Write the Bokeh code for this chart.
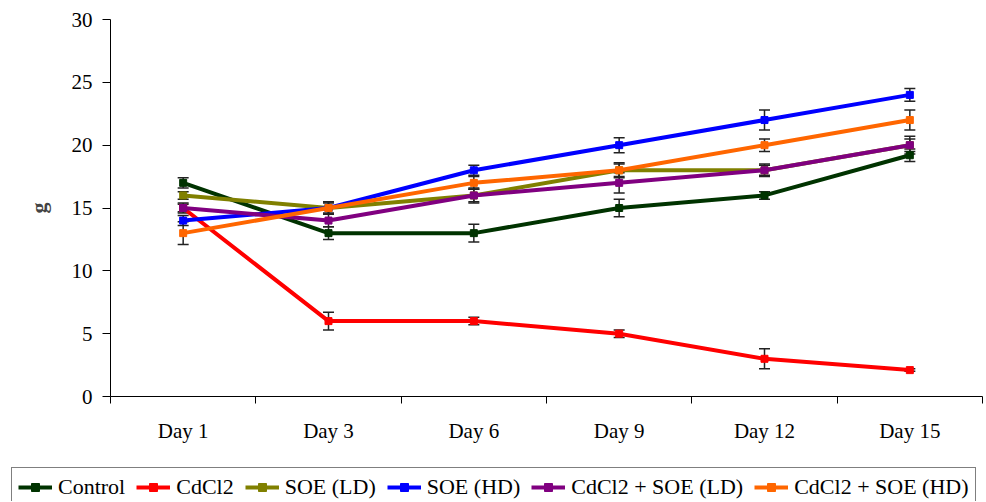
from bokeh.plotting import figure
from bokeh.layouts import column
from bokeh.models import (Range1d, FixedTicker, Legend, LegendItem, Whisker,
                          TeeHead, ColumnDataSource)
from bokeh.embed import file_html
from bokeh.resources import INLINE

days = ["Day 1", "Day 3", "Day 6", "Day 9", "Day 12", "Day 15"]

series_names = ["Control", "CdCl2", "SOE (LD)", "SOE (HD)",
                "CdCl2 + SOE (LD)", "CdCl2 + SOE (HD)"]

control = [17, 13, 13, 15, 16, 19.2]
cdcl2 = [15, 6, 6, 5, 3, 2.1]
soe_ld = [16, 15, 16, 18, 18, 20]
soe_hd = [14, 15, 18, 20, 22, 24]
cd_soe_ld = [15, 14, 16, 17, 18, 20]
cd_soe_hd = [13, 15, 17, 18, 20, 22]

control_err = [0.4, 0.5, 0.7, 0.7, 0.3, 0.5]
cdcl2_err = [0.3, 0.7, 0.3, 0.3, 0.8, 0.1]
soe_ld_err = [0.3, 0.5, 0.5, 0.5, 0.4, 0.5]
soe_hd_err = [0.4, 0.5, 0.4, 0.6, 0.8, 0.5]
cd_soe_ld_err = [0.4, 0.5, 0.6, 0.8, 0.5, 0.7]
cd_soe_hd_err = [0.9, 0.4, 0.5, 0.6, 0.5, 0.8]

colors = ["#003300", "#FF0000", "#808000", "#0000FF", "#800080", "#FF6600"]

all_values = [control, cdcl2, soe_ld, soe_hd, cd_soe_ld, cd_soe_hd]
all_errors = [control_err, cdcl2_err, soe_ld_err, soe_hd_err, cd_soe_ld_err, cd_soe_hd_err]

FONT = "Liberation Serif"

p = figure(width=984, height=463, output_backend="svg", toolbar_location=None,
           x_range=Range1d(-0.5, 5.5), y_range=Range1d(0, 30),
           min_border_left=110, min_border_top=19, min_border_right=2,
           min_border_bottom=67)
p.frame_align = False
p.xgrid.visible = False
p.ygrid.visible = False
p.outline_line_color = None
p.background_fill_color = "white"
p.border_fill_color = "white"

xs = list(range(len(days)))

# error bars
for vals, errs in zip(all_values, all_errors):
    src = ColumnDataSource(dict(x=xs,
                                upper=[v + e for v, e in zip(vals, errs)],
                                lower=[v - e for v, e in zip(vals, errs)]))
    w = Whisker(source=src, base="x", upper="upper", lower="lower",
                line_color="#222222", line_width=1.5,
                upper_head=TeeHead(size=11, line_color="#222222", line_width=1.5),
                lower_head=TeeHead(size=11, line_color="#222222", line_width=1.5))
    p.add_layout(w)

for name, vals, col in zip(series_names, all_values, colors):
    p.line(xs, vals, line_color=col, line_width=4)
    p.scatter(xs, vals, marker="square", size=7, fill_color=col, line_color=col)

# x axis
xa = p.xaxis[0]
xa.ticker = FixedTicker(ticks=xs, minor_ticks=[i - 0.5 for i in range(len(days) + 1)])
xa.major_label_overrides = {i: d for i, d in enumerate(days)}
xa.major_tick_out = 0
xa.major_tick_in = 0
xa.minor_tick_out = 7
xa.minor_tick_in = 0
xa.minor_tick_line_color = "black"
xa.axis_line_color = "black"
xa.major_label_standoff = 15
xa.major_label_text_font = FONT
xa.major_label_text_font_size = "21px"
xa.major_label_text_color = "black"

ya = p.yaxis[0]
ya.ticker = FixedTicker(ticks=[0, 5, 10, 15, 20, 25, 30])
ya.major_tick_out = 8
ya.major_tick_in = 0
ya.minor_tick_out = 0
ya.minor_tick_in = 0
ya.axis_line_color = "black"
ya.major_tick_line_color = "black"
ya.major_label_standoff = 10
ya.major_label_text_font = FONT
ya.major_label_text_font_size = "21px"
ya.major_label_text_color = "black"
ya.axis_label = "g"
ya.axis_label_text_font = FONT
ya.axis_label_text_font_style = "bold"
ya.axis_label_text_font_size = "22px"
ya.axis_label_standoff = 18

# legend strip (a second figure below the chart, same series)
lg = figure(width=984, height=38, output_backend="svg", toolbar_location=None,
            x_range=Range1d(100, 101), y_range=Range1d(100, 101),
            x_axis_type=None, y_axis_type=None,
            min_border_left=0, min_border_right=0, min_border_top=0,
            min_border_bottom=0)
lg.frame_align = False
lg.xgrid.visible = False
lg.ygrid.visible = False
lg.outline_line_color = None
items = []
for name, vals, col in zip(series_names, all_values, colors):
    lr = lg.line(xs, vals, line_color=col, line_width=4)
    sr = lg.scatter(xs, vals, marker="square", size=7, fill_color=col, line_color=col)
    items.append(LegendItem(label=name, renderers=[lr, sr]))

legend = Legend(items=items, orientation="horizontal", location=(11, -6),
                border_line_color="black", border_line_width=1,
                background_fill_color="white", background_fill_alpha=1,
                padding=6, spacing=11, glyph_width=34, label_standoff=6,
                margin=0,
                label_text_font="serif",
                label_text_font_style="normal",
                label_text_font_size="22px",
                label_text_color="black")
lg.add_layout(legend)

layout = column(p, lg, spacing=0)
open("out.html", "w").write(file_html(layout, INLINE))
